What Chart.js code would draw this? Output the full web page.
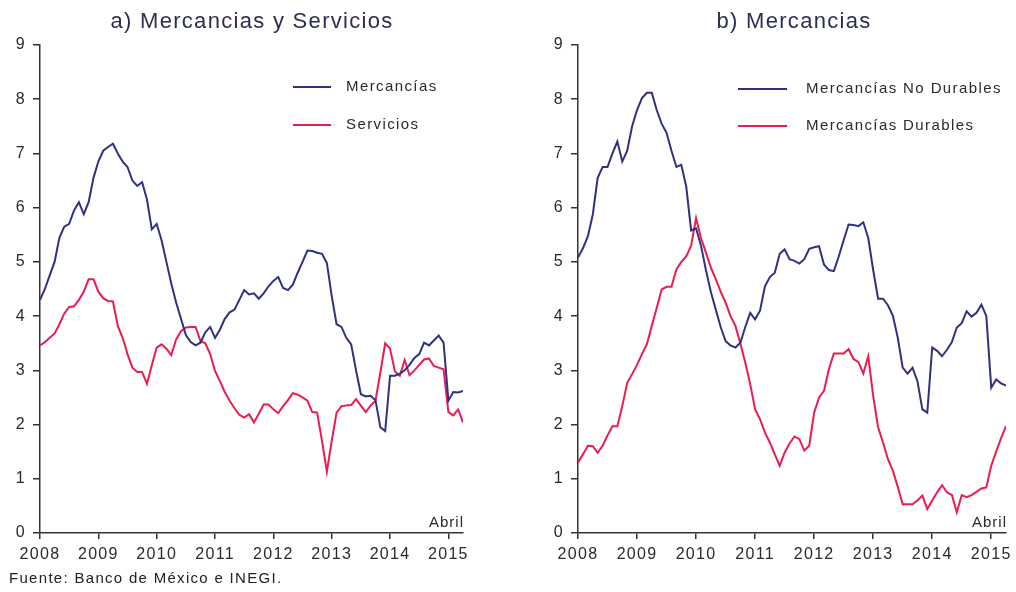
<!DOCTYPE html>
<html><head><meta charset="utf-8">
<script src="https://cdn.jsdelivr.net/npm/chart.js@4.4.0/dist/chart.umd.min.js"></script>
<style>
html,body{margin:0;padding:0;background:#fff;width:1016px;height:592px;overflow:hidden}
.wrap{position:absolute;top:0;width:508px;height:592px}
#fuente{position:absolute;left:9px;top:569px;font:15px 'Liberation Sans',Arial,sans-serif;letter-spacing:1.3px;color:#222;white-space:nowrap}
</style></head><body>
<div class="wrap" style="left:0"><canvas id="c1"></canvas></div>
<div class="wrap" style="left:508px"><canvas id="c2"></canvas></div>
<div id="fuente">Fuente: Banco de México e INEGI.</div>
<script>
// ---- categories ----
const years = ['2008','2009','2010','2011','2012','2013','2014','2015'];
const months = [];
for (let y = 2008; y <= 2015; y++) for (let m = 1; m <= 12; m++) { if (y === 2015 && m > 4) break; months.push(y + '-' + String(m).padStart(2,'0')); }
const yTicks = [0,1,2,3,4,5,6,7,8,9];

// ---- panel a) ----
const mercancias = [4.30,4.50,4.75,5.00,5.45,5.65,5.70,5.95,6.10,5.88,6.10,6.55,
 6.85,7.05,7.12,7.18,7.00,6.85,6.75,6.50,6.40,6.47,6.15,5.60,
 5.70,5.40,5.00,4.60,4.25,3.95,3.65,3.52,3.46,3.51,3.70,3.80,
 3.60,3.75,3.95,4.07,4.12,4.30,4.48,4.40,4.42,4.32,4.42,4.55,
 4.65,4.72,4.52,4.48,4.58,4.80,5.00,5.21,5.20,5.17,5.15,4.98,
 4.37,3.85,3.80,3.60,3.48,3.00,2.56,2.52,2.53,2.45,1.95,1.88,
 2.90,2.90,2.94,3.00,3.10,3.23,3.30,3.51,3.46,3.55,3.64,3.51,
 2.44,2.60,2.59,2.62];
const servicios = [3.46,3.52,3.60,3.68,3.85,4.05,4.17,4.18,4.30,4.45,4.68,4.68,
 4.45,4.33,4.28,4.27,3.82,3.60,3.30,3.05,2.97,2.97,2.75,3.10,
 3.42,3.48,3.40,3.28,3.57,3.72,3.79,3.80,3.80,3.54,3.50,3.30,
 2.99,2.80,2.60,2.44,2.30,2.18,2.13,2.19,2.04,2.20,2.37,2.37,
 2.28,2.21,2.34,2.45,2.58,2.55,2.50,2.44,2.23,2.22,1.70,1.13,
 1.70,2.22,2.34,2.35,2.36,2.47,2.35,2.23,2.35,2.44,2.96,3.50,
 3.40,2.98,2.90,3.19,2.91,3.00,3.10,3.20,3.22,3.08,3.05,3.02,
 2.23,2.17,2.28,2.04];

// ---- panel b) ----
const noDurables = [5.08,5.25,5.47,5.87,6.55,6.75,6.75,7.00,7.22,6.85,7.05,7.50,
 7.80,8.02,8.12,8.12,7.80,7.55,7.38,7.05,6.75,6.79,6.39,5.58,
 5.62,5.30,4.85,4.45,4.12,3.80,3.54,3.46,3.42,3.51,3.80,4.06,
 3.94,4.10,4.55,4.72,4.80,5.15,5.23,5.05,5.02,4.97,5.05,5.24,
 5.27,5.29,4.95,4.85,4.83,5.10,5.40,5.69,5.68,5.66,5.73,5.44,
 4.85,4.32,4.32,4.20,4.01,3.60,3.05,2.94,3.05,2.80,2.28,2.22,
 3.42,3.36,3.26,3.38,3.52,3.79,3.87,4.09,3.99,4.06,4.21,4.00,
 2.68,2.83,2.76,2.72];
const durables = [1.30,1.45,1.61,1.60,1.48,1.61,1.80,1.97,1.97,2.34,2.77,2.93,
 3.10,3.30,3.48,3.82,4.15,4.49,4.54,4.54,4.86,5.00,5.10,5.30,
 5.81,5.44,5.17,4.90,4.68,4.45,4.25,4.00,3.82,3.50,3.14,2.75,
 2.28,2.10,1.85,1.67,1.45,1.24,1.48,1.65,1.78,1.73,1.52,1.61,
 2.22,2.50,2.62,3.02,3.31,3.31,3.31,3.39,3.21,3.15,2.94,3.26,
 2.53,1.95,1.67,1.36,1.15,0.85,0.53,0.53,0.53,0.60,0.69,0.44,
 0.60,0.75,0.88,0.75,0.70,0.38,0.70,0.66,0.70,0.76,0.82,0.84,
 1.24,1.50,1.75,1.97];

const NAVY = '#2f3282';
const RED = '#ec1b50';
const FONT = "'Liberation Sans', Arial, sans-serif";
const TXT = '#2a2a2a';

const toXY = arr => arr.map((v, i) => ({ x: i, y: v }));

const spacingPlugin = {
  id: 'spacing',
  beforeLayout(c) { c.ctx.letterSpacing = '1.3px'; },
  beforeDraw(c) { c.ctx.letterSpacing = '1.3px'; }
};

const decoPlugin = {
  id: 'deco',
  afterDraw(chart, args, o) {
    const ctx = chart.ctx;
    ctx.save();
    // title
    ctx.letterSpacing = o.titleSpacing;
    ctx.font = '22px ' + FONT;
    ctx.fillStyle = '#2b2e52';
    ctx.textAlign = 'center';
    ctx.textBaseline = 'alphabetic';
    ctx.fillText(o.title, o.titleX, o.titleY);
    // legend
    ctx.letterSpacing = '1.4px';
    chart.data.datasets.forEach((ds, i) => {
      const y = o.legY[i];
      ctx.strokeStyle = ds.borderColor;
      ctx.lineWidth = 2;
      ctx.beginPath();
      ctx.moveTo(o.legX, y);
      ctx.lineTo(o.legX + o.legLen, y);
      ctx.stroke();
      ctx.font = '15px ' + FONT;
      ctx.fillStyle = TXT;
      ctx.textAlign = 'left';
      ctx.textBaseline = 'middle';
      ctx.fillText(ds.label, o.legTextX, y);
    });
    // Abril
    ctx.letterSpacing = '1px';
    ctx.font = '15px ' + FONT;
    ctx.fillStyle = TXT;
    ctx.textAlign = 'right';
    ctx.textBaseline = 'alphabetic';
    ctx.fillText('Abril', chart.chartArea.right + 1, chart.chartArea.bottom - 6);
    ctx.restore();
  }
};

function makeChart(id, series, padding, deco) {
  return new Chart(document.getElementById(id), {
    type: 'line',
    data: {
      labels: months,
      datasets: series.map(s => ({
        label: s.label, data: toXY(s.data), borderColor: s.color, backgroundColor: s.color,
        borderWidth: 2, pointRadius: 0, tension: 0, fill: false
      }))
    },
    options: {
      responsive: true, maintainAspectRatio: false, animation: false,
      layout: { padding },
      plugins: { legend: { display: false }, tooltip: { enabled: false }, title: { display: false }, deco },
      scales: {
        x: {
          type: 'linear', min: 0, max: months.length - 1,
          afterBuildTicks(s) { s.ticks = years.map((y, i) => ({ value: i * 12 })); },
          afterFit(s) { s.height = 30; s.paddingLeft = 0; s.paddingRight = 0; },
          ticks: { callback: (v) => years[v / 12], color: TXT, font: { family: FONT, size: 16 }, padding: 6, maxRotation: 0, autoSkip: false },
          grid: { drawOnChartArea: false, drawTicks: true, tickLength: 6, color: '#333', lineWidth: 1.5 },
          border: { display: true, color: '#333', width: 1.5 }
        },
        y: {
          min: 0, max: 9,
          afterBuildTicks(s) { s.ticks = yTicks.map(v => ({ value: v })); },
          afterFit(s) { s.width = 40; s.paddingTop = 0; s.paddingBottom = 0; },
          ticks: { color: TXT, font: { family: FONT, size: 16 }, padding: 7 },
          grid: { drawOnChartArea: false, drawTicks: true, tickLength: 7, color: '#333', lineWidth: 1.5 },
          border: { display: true, color: '#333', width: 1.5 }
        }
      }
    },
    plugins: [spacingPlugin, decoPlugin]
  });
}

makeChart('c1',
  [{ label: 'Mercancías', data: mercancias, color: NAVY }, { label: 'Servicios', data: servicios, color: RED }],
  { left: 0, right: 45, top: 45, bottom: 29 },
  { title: 'a) Mercancias y Servicios', titleX: 252, titleY: 28, titleSpacing: '1.3px', legX: 293, legLen: 38, legTextX: 346, legY: [87, 125] });

makeChart('c2',
  [{ label: 'Mercancías No Durables', data: noDurables, color: NAVY }, { label: 'Mercancías Durables', data: durables, color: RED }],
  { left: 30, right: 10, top: 45, bottom: 29 },
  { title: 'b) Mercancias', titleX: 286, titleY: 28, titleSpacing: '1.3px', legX: 230, legLen: 49, legTextX: 298, legY: [89, 126] });
</script>
</body></html>
